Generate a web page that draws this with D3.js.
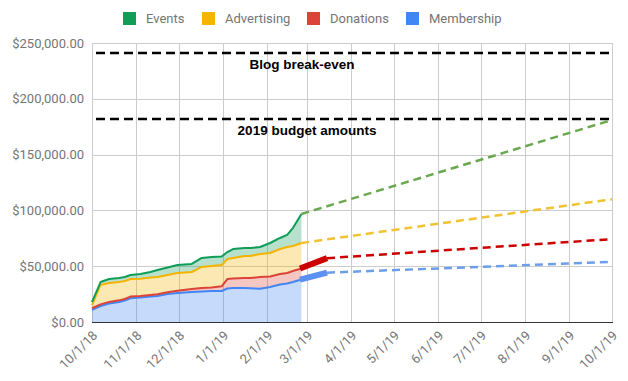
<!DOCTYPE html>
<html><head><meta charset="utf-8">
<script src="https://cdn.jsdelivr.net/npm/d3@7"></script>
<style>body{margin:0;background:#fff} svg{display:block}</style>
</head><body><svg id="c" width="628" height="381"></svg>
<script>
// ---- data ----
const dates = ["2018-10-01","2018-10-07","2018-10-13","2018-10-20","2018-10-24","2018-10-28","2018-11-04","2018-11-11","2018-11-16","2018-11-23","2018-11-30","2018-12-10","2018-12-17","2018-12-24","2018-12-31","2019-01-04","2019-01-08","2019-01-16","2019-01-20","2019-01-27","2019-02-03","2019-02-10","2019-02-15","2019-02-19","2019-02-25"];
const membership  = [10800,14300,16600,17900,19300,21300,22000,22900,23300,25100,26000,26900,27300,27800,27800,30000,30500,30500,30300,29800,31400,33600,34500,35800,38100];
const donations   = [1500,1500,1400,1500,1300,1500,1400,1400,1500,1500,2000,2600,3200,3200,4200,8500,8500,8900,9100,10500,9400,9400,9400,9900,9800];
const advertising = [2900,17400,17000,16400,16100,15700,15400,15600,15500,15500,15900,15300,18800,19200,19000,18000,18400,19700,19700,20600,21000,22400,23300,22400,22900];
const events      = [2700,2600,3500,3600,3600,3600,4200,4900,6300,6700,7100,7200,8100,8000,7700,6200,8000,7200,7200,6300,9000,9900,10800,16100,26000];

const legendNames = ["Events","Advertising","Donations","Membership"];

const eventsForecastDates = ["2019-02-25","2019-10-01"];
const eventsForecast = [96800,181000];
const advertisingForecastDates = ["2019-02-25","2019-10-01"];
const advertisingForecast = [70800,110000];
const donationsTrendDates = ["2019-02-24","2019-03-15"];
const donationsTrend = [47900,57200];
const donationsForecastDates = ["2019-03-15","2019-10-01"];
const donationsForecast = [57200,74300];
const membershipTrendDates = ["2019-02-24","2019-03-15"];
const membershipTrend = [37900,44200];
const membershipForecastDates = ["2019-03-15","2019-10-01"];
const membershipForecast = [44200,54000];

const refLabels = ["Blog break-even","2019 budget amounts"];
const refValues = [241000,182000];
const refDates = ["2018-10-01","2019-10-01"];

const yTicks = [0,50000,100000,150000,200000,250000];

// ---- setup ----
const parse = d3.utcParse("%Y-%m-%d");
const svg = d3.select("#c");
const L = 92, R = 612, T = 43, B = 322;
const x = d3.scaleUtc().domain([parse("2018-10-01"), parse("2019-10-01")]).range([L, R]);
const y = d3.scaleLinear().domain([0,250000]).range([B, T]);

const col = {Events:"#0f9d58", Advertising:"#f4b400", Donations:"#db4437", Membership:"#4285f4"};

// gridlines
const months = d3.utcMonth.range(parse("2018-10-01"), parse("2019-10-02"));
svg.append("g").selectAll("line").data(months).join("line")
  .attr("x1", d=>Math.round(x(d))+0.5).attr("x2", d=>Math.round(x(d))+0.5)
  .attr("y1", T).attr("y2", B).attr("stroke", "#cccccc");
svg.append("g").selectAll("line").data(yTicks).join("line")
  .attr("x1", L).attr("x2", R).attr("y1", d=>Math.round(y(d))+0.5).attr("y2", d=>Math.round(y(d))+0.5)
  .attr("stroke", "#cccccc");

// stacked areas
const rows = dates.map((d,i)=>({date:parse(d), Membership:membership[i], Donations:donations[i], Advertising:advertising[i], Events:events[i]}));
const keys = ["Membership","Donations","Advertising","Events"];
const stacked = d3.stack().keys(keys)(rows);
const area = d3.area().x(d=>x(d.data.date)).y0(d=>y(d[0])).y1(d=>y(d[1]));
const line = d3.line().x(d=>x(d.data.date)).y(d=>y(d[1]));
svg.append("g").selectAll("path").data(stacked).join("path")
  .attr("d", area).attr("fill", d=>col[d.key]).attr("fill-opacity", 0.3);
svg.append("g").selectAll("path").data(stacked).join("path")
  .attr("d", line).attr("fill","none").attr("stroke", d=>col[d.key]).attr("stroke-width", 2).attr("stroke-linejoin","round");

// reference lines
const lp = d3.line().x(d=>x(d[0])).y(d=>y(d[1]));
refValues.forEach((v,i)=>{
  svg.append("path").attr("d", lp(refDates.map(d=>[parse(d), v])))
    .attr("stroke","#000").attr("stroke-width",2.5).attr("stroke-dasharray","9,5").attr("stroke-dashoffset",10).attr("fill","none");
});
const labelPos = [[302,69],[307,135]];
refLabels.forEach((t,i)=>{
  svg.append("text").attr("x", labelPos[i][0]).attr("y", labelPos[i][1]).attr("text-anchor","middle")
    .attr("font-family","Liberation Sans, Arial, sans-serif").attr("font-weight","bold").attr("font-size","13.5px").attr("fill","#000").text(t);
});

// forecasts
function seg(ds, vs, color, w, dash){
  svg.append("path").attr("d", lp(ds.map((d,i)=>[parse(d), vs[i]])))
    .attr("fill","none").attr("stroke",color).attr("stroke-width",w)
    .attr("stroke-dasharray", dash||null);
}
seg(eventsForecastDates, eventsForecast, "#6aa84f", 2.5, "8,5");
seg(advertisingForecastDates, advertisingForecast, "#f1c232", 2.5, "8,5");
seg(donationsForecastDates, donationsForecast, "#cc0000", 2.5, "8,5");
seg(membershipForecastDates, membershipForecast, "#6d9eeb", 2.5, "8,5");
seg(donationsTrendDates, donationsTrend, "#cc0000", 6);
seg(membershipTrendDates, membershipTrend, "#5b8ff0", 6);

// axes
svg.append("line").attr("x1",L).attr("x2",R+1).attr("y1",B+0.5).attr("y2",B+0.5).attr("stroke","#333");
const fmt = d3.format("$,.2f");
svg.append("g").selectAll("text").data(yTicks).join("text")
  .attr("x", L-8).attr("y", d=>y(d)).attr("dy","0.35em").attr("text-anchor","end")
  .attr("font-family","Roboto, sans-serif").attr("font-size","13px").attr("fill","#757575").text(fmt);
const xf = d=>`${d.getUTCMonth()+1}/${d.getUTCDate()}/${String(d.getUTCFullYear()).slice(2)}`;
svg.append("g").selectAll("text").data(months).join("text")
  .attr("transform", d=>`translate(${x(d)+3},333) rotate(-45)`).attr("dy","0.35em").attr("text-anchor","end")
  .attr("font-family","Roboto, sans-serif").attr("font-size","13px").attr("fill","#757575").text(xf);

// legend
const legX = [123,202,307,406];
const lg = svg.append("g").selectAll("g").data(legendNames).join("g").attr("transform",(d,i)=>`translate(${legX[i]},12)`);
lg.append("rect").attr("width",13).attr("height",13).attr("fill", d=>col[d]);
lg.append("text").attr("x",23).attr("y",6.5).attr("dy","0.35em").attr("font-family","Roboto, sans-serif").attr("font-size","13px").attr("fill","#757575").text(d=>d);
</script></body></html>
